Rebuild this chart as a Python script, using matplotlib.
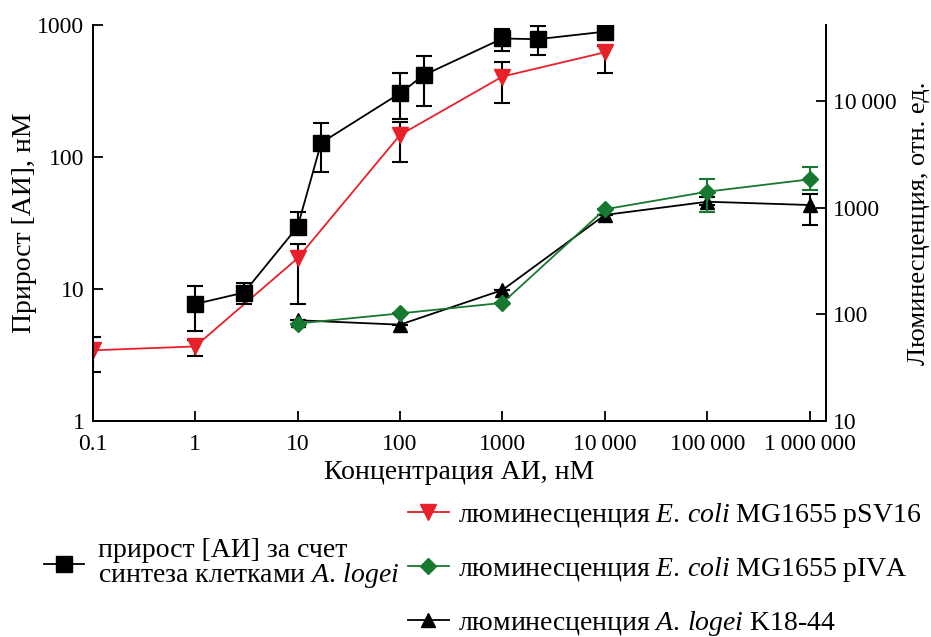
import matplotlib
matplotlib.use("Agg")
import matplotlib.pyplot as plt
from matplotlib.ticker import FixedLocator, NullLocator, FixedFormatter
from matplotlib.lines import Line2D
import numpy as np

plt.rcParams['font.family'] = ['Liberation Serif', 'DejaVu Serif']
plt.rcParams['mathtext.fontset'] = 'custom'
plt.rcParams['mathtext.rm'] = 'Liberation Serif'
plt.rcParams['mathtext.it'] = 'Liberation Serif:italic'

# прирост [АИ] (левая ось, нМ)
conc_ai = [1, 3, 10, 17, 100, 170, 1000, 2200, 10000]
ai_val = [7.7, 9.4, 29.6, 128, 304, 416, 790, 780, 890]
ai_lo = [4.8, 7.7, 26, 77, 193, 242, 640, 593, 890]
ai_hi = [10.6, 11.2, 38, 181, 433, 586, 930, 983, 890]

# люминесценция E. coli pSV16 (правая ось)
conc_sv = [0.1, 1, 10, 100, 1000, 10000]
sv_val = [46, 50, 335, 4790, 16900, 28500]
sv_lo = [29, 41, 125, 2690, 9500, 18200]
sv_hi = [61, 58, 453, 6380, 23300, 33000]

# люминесценция E. coli pIVA (правая ось)
conc_iva = [10, 100, 1000, 10000, 100000, 1000000]
iva_val = [82, 102, 128, 964, 1410, 1840]
iva_lo = [82, 102, 128, 964, 916, 1460]
iva_hi = [82, 102, 128, 964, 1850, 2390]

# люминесценция A. logei K18-44 (правая ось)
conc_k18 = [10, 100, 1000, 10000, 100000, 1000000]
k18_val = [88, 80, 169, 853, 1135, 1057]
k18_lo = [88, 80, 169, 853, 1050, 687]
k18_hi = [88, 80, 169, 853, 1250, 1330]

xticks = [0.1, 1, 10, 100, 1000, 10000, 100000, 1000000]
xticklabels = ["0.1", "1", "10", "100", "1000", "10\u2009000", "100\u2009000", "1\u2009000\u2009000"]
yticks_l = [1, 10, 100, 1000]
yticks_r = [10, 100, 1000, 10000]
yticklabels_r = ["10", "100", "1000", "10\u2009000"]

red = '#e8202a'
green = '#17782f'
fs = 20
fs_tick = 17

def errs(v, lo, hi):
    v = np.array(v, float)
    return [v - np.array(lo, float), np.array(hi, float) - v]

fig = plt.figure(figsize=(9.31, 6.37), dpi=100)
ax = fig.add_axes([0.0996, 0.339, 0.7879, 0.6218])
ax2 = ax.twinx()

ax.set_xscale('log')
ax.set_yscale('log')
ax2.set_yscale('log')
ax.set_xlim(0.1, 1.45e6)
ax.set_ylim(1, 1000)
ax2.set_ylim(10, 51400)

ax2.errorbar(conc_k18, k18_val, yerr=errs(k18_val, k18_lo, k18_hi), color='black',
             marker='^', ms=10, lw=1.3, ecolor='black', elinewidth=1.5, capsize=6, capthick=1.5, zorder=3)
ax2.errorbar(conc_iva, iva_val, yerr=errs(iva_val, iva_lo, iva_hi), color=green,
             marker='D', ms=8, lw=1.3, ecolor=green, elinewidth=1.5, capsize=6, capthick=1.5, zorder=4)
ax2.errorbar(conc_sv, sv_val, yerr=errs(sv_val, sv_lo, sv_hi), color=red,
             marker='v', ms=11, lw=1.3, ecolor='black', elinewidth=1.5, capsize=6, capthick=1.5, zorder=5)
ax.errorbar(conc_ai, ai_val, yerr=errs(ai_val, ai_lo, ai_hi), color='black',
            marker='s', ms=11, lw=1.3, ecolor='black', elinewidth=1.5, capsize=6, capthick=1.5, zorder=6)
ax.set_zorder(ax2.get_zorder() + 1)
ax.patch.set_visible(False)

ax.xaxis.set_major_locator(FixedLocator(xticks))
ax.xaxis.set_major_formatter(FixedFormatter(xticklabels))
ax.xaxis.set_minor_locator(NullLocator())
ax.yaxis.set_major_locator(FixedLocator(yticks_l))
ax.yaxis.set_major_formatter(FixedFormatter([str(v) for v in yticks_l]))
ax.yaxis.set_minor_locator(NullLocator())
ax2.yaxis.set_major_locator(FixedLocator(yticks_r))
ax2.yaxis.set_major_formatter(FixedFormatter(yticklabels_r))
ax2.yaxis.set_minor_locator(NullLocator())

for a in (ax, ax2):
    a.spines['top'].set_visible(False)
    for s in a.spines.values():
        s.set_linewidth(1.3)
    a.tick_params(direction='in', length=7, width=1.3, labelsize=fs_tick)
ax.tick_params(axis='x', pad=9)
ax.tick_params(axis='y', pad=6)
ax2.tick_params(axis='y', pad=5)

ax.set_xlabel("Концентрация АИ, нМ", fontsize=fs, labelpad=4)
ax.set_ylabel("Прирост [АИ], нМ", fontsize=fs, labelpad=0)
ax2.set_ylabel("Люминесценция, отн. ед.", fontsize=19, labelpad=8)

h_ai = Line2D([], [], color='black', marker='s', ms=11, lw=1.3)
h_sv = Line2D([], [], color=red, marker='v', ms=11, lw=1.3)
h_iva = Line2D([], [], color=green, marker='D', ms=8, lw=1.3)
h_k18 = Line2D([], [], color='black', marker='^', ms=10, lw=1.3)

leg1 = fig.legend([h_ai], ["прирост [АИ] за счет\nсинтеза клетками $\\it{A.\\,logei}$"],
                  loc='center left', bbox_to_anchor=(0.047, 1 - 564 / 637), frameon=False,
                  fontsize=fs, handlelength=1.44, handletextpad=0.5, borderpad=0, borderaxespad=0)
leg1.get_texts()[0].set_linespacing(0.9)
fig.legend([h_sv, h_iva, h_k18],
           ["люминесценция $\\it{E.\\,coli}$ MG1655 pSV16",
            "люминесценция $\\it{E.\\,coli}$ MG1655 pIVA",
            "люминесценция $\\it{A.\\,logei}$ K18-44"],
           loc='center left', bbox_to_anchor=(0.438, 1 - 569 / 637), frameon=False,
           fontsize=fs, handlelength=1.47, handletextpad=0.32, labelspacing=0.9,
           borderpad=0, borderaxespad=0)

fig.savefig("out.png", dpi=100)
